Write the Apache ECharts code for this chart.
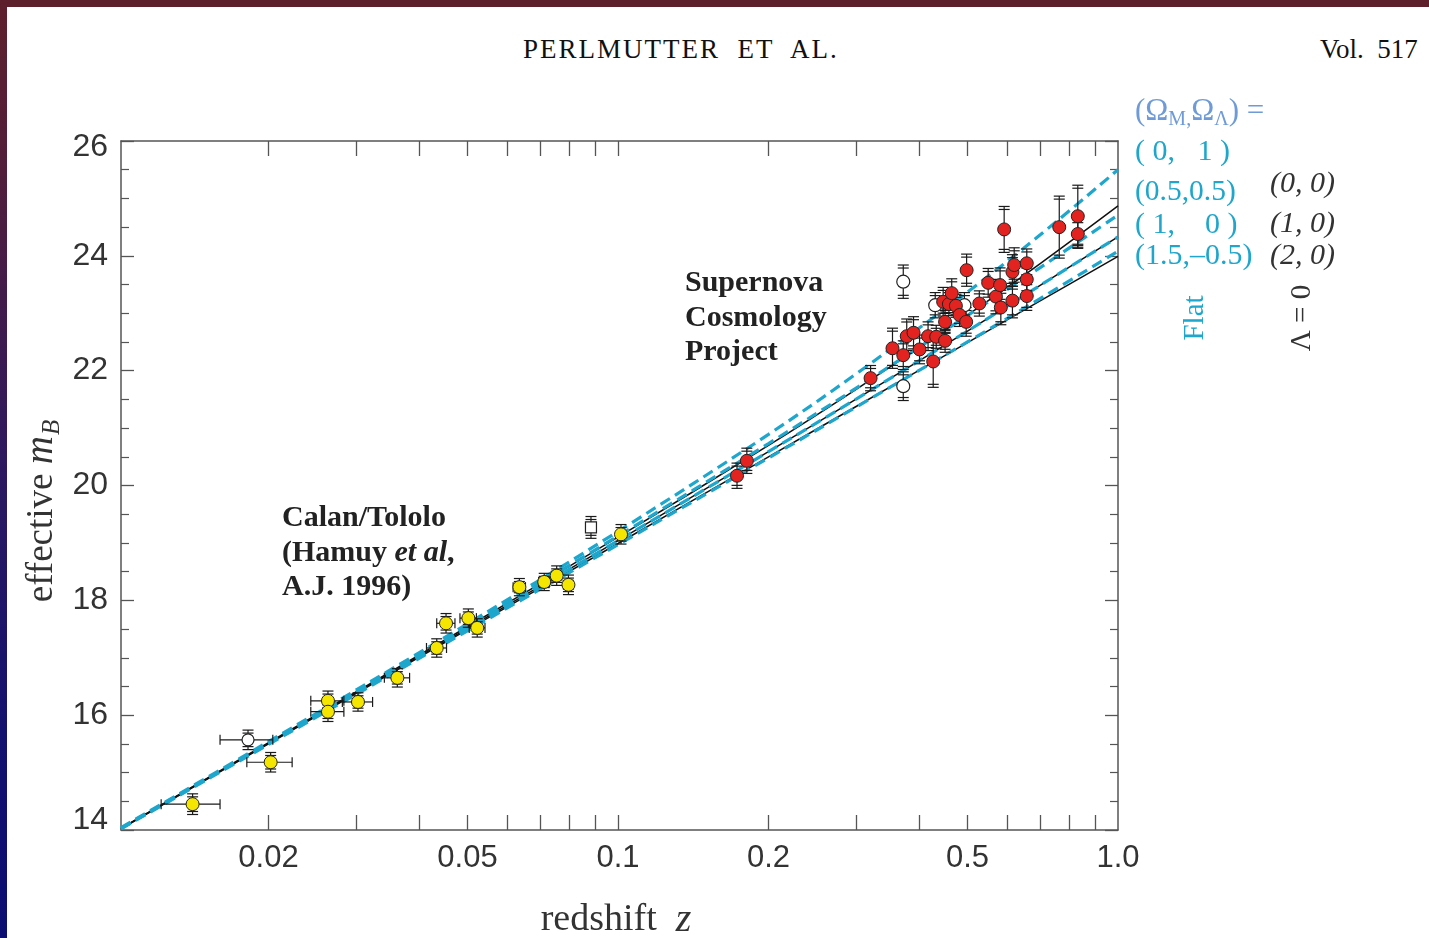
<!DOCTYPE html>
<html>
<head>
<meta charset="utf-8">
<script src="https://cdn.jsdelivr.net/npm/echarts@6/dist/echarts.min.js"></script>
<style>
html,body{margin:0;padding:0;width:1429px;height:938px;overflow:hidden;}
body{background:linear-gradient(to bottom,#5e1f2c 0%,#521d3b 18%,#2d1860 50%,#13116e 78%,#0c0d72 100%);}
#paper{position:absolute;left:7px;top:7px;right:0;bottom:0;background:#fff;}
#chart{position:absolute;left:0;top:0;width:1429px;height:938px;}
.hdr{position:absolute;font-family:"Liberation Serif","Times New Roman",serif;color:#111;white-space:pre;line-height:1;}
</style>
</head>
<body>
<div id="paper"></div>
<div class="hdr" style="left:523px;top:36px;font-size:27px;letter-spacing:2px;">PERLMUTTER  ET  AL.</div>
<div class="hdr" style="left:1320px;top:36px;font-size:27px;">Vol.  517</div>
<div id="chart"></div>
<script>
const SERIF = '"Liberation Serif","Times New Roman",Times,serif';
const SANS = '"Liberation Sans",Arial,Helvetica,sans-serif';
const L = v => Math.log10(v);

// ---- axis ranges / ticks ----
const zMin = 0.01014, zMax = 1.0;
const xLabelZ = [0.02, 0.05, 0.1, 0.2, 0.5, 1.0];
const xLabelText = ['0.02', '0.05', '0.1', '0.2', '0.5', '1.0'];
const xTickZ = [0.02,0.03,0.04,0.05,0.06,0.07,0.08,0.09,0.1,0.2,0.3,0.4,0.5,0.6,0.7,0.8,0.9];

// ---- model curves ----
const zModel      = [0.01014, 0.02, 0.05, 0.1, 0.2, 0.3, 0.5, 0.7, 1.0];
const mFlat_0_1   = [14.04, 15.54, 17.59, 19.20, 20.89, 21.95, 23.37, 24.37, 25.50];
const mFlat_05_05 = [14.03, 15.52, 17.55, 19.12, 20.73, 21.70, 22.96, 23.80, 24.71];
const mFlat_1_0   = [14.03, 15.51, 17.51, 19.04, 20.59, 21.51, 22.69, 23.49, 24.33];
const mFlat_15_m05= [14.02, 15.49, 17.47, 18.97, 20.48, 21.37, 22.50, 23.26, 24.08];
const mL0_0_0     = [14.03, 15.52, 17.54, 19.10, 20.70, 21.68, 22.97, 23.87, 24.87];
const mL0_1_0     = [14.03, 15.51, 17.51, 19.04, 20.59, 21.51, 22.69, 23.49, 24.33];
const mL0_2_0     = [14.02, 15.50, 17.49, 18.99, 20.50, 21.38, 22.49, 23.22, 23.99];

// ---- Calan/Tololo supernovae ----
const ctZ  = [0.0141,0.0202,0.0263,0.0263,0.0302,0.0362,0.0434,0.0453,0.0502,0.0523,0.0635,0.0712,0.0754,0.0796,0.1014];
const ctM  = [14.45,15.18,16.25,16.06,16.23,16.65,17.17,17.60,17.69,17.52,18.23,18.32,18.43,18.27,19.15];
const ctDM = [0.18,0.17,0.17,0.17,0.16,0.16,0.16,0.17,0.16,0.16,0.15,0.15,0.17,0.17,0.17];
const ctDZ = [0.0019,0.0021,0.0020,0.0020,0.0021,0.0021,0.0020,0.0019,0.0019,0.0019,0.0018,0.0018,0.0018,0.0018,0];
const ctOpenZ = [0.0182], ctOpenM = [15.57], ctOpenDM = [0.17], ctOpenDZ = [0.0022];
const sqZ = [0.0883], sqM = [19.27], sqDM = [0.19];

// ---- Supernova Cosmology Project ----
const scpZ  = [0.173,0.181,0.320,0.354,0.372,0.378,0.390,0.401,0.417,0.427,0.433,0.451,0.451,0.447,0.459,0.465,0.474,0.482,0.497,0.498,0.528,0.550,0.570,0.581,0.583,0.592,0.615,0.615,0.620,0.657,0.657,0.657,0.763,0.831,0.831];
const scpM  = [20.17,20.43,21.87,22.39,22.27,22.60,22.66,22.37,22.60,22.16,22.59,22.52,22.85,23.20,23.16,23.35,23.13,22.97,22.85,23.75,23.17,23.53,23.29,23.49,23.10,24.46,23.22,23.72,23.84,23.87,23.59,23.30,24.50,24.69,24.38];
const scpDM = [0.22,0.22,0.22,0.35,0.25,0.30,0.28,0.25,0.25,0.45,0.20,0.20,0.20,0.25,0.20,0.25,0.20,0.20,0.25,0.28,0.22,0.25,0.30,0.30,0.30,0.40,0.30,0.30,0.30,0.25,0.25,0.25,0.54,0.54,0.25];
const scpOpenZ = [0.372,0.372,0.431,0.493];
const scpOpenM = [23.55,21.73,23.14,23.14];
const scpOpenDM = [0.29,0.25,0.22,0.22];

// ---- build ----
const pts = (zs, ms) => zs.map((z, i) => [L(z), ms[i]]);
const errRows = (zs, ms, dms, dzs) => zs.map((z, i) => {
  const dz = dzs ? dzs[i] : 0;
  return [L(z), ms[i], dms[i], dz ? L(z - dz) : L(z), dz ? L(z + dz) : L(z)];
});
const allErr = [].concat(
  errRows(ctZ, ctM, ctDM, ctDZ),
  errRows(ctOpenZ, ctOpenM, ctOpenDM, ctOpenDZ),
  errRows(sqZ, sqM, sqDM, null),
  errRows(scpZ, scpM, scpDM, null),
  errRows(scpOpenZ, scpOpenM, scpOpenDM, null)
);

function renderErr(params, api) {
  const x = api.value(0), y = api.value(1), dy = api.value(2), xl = api.value(3), xh = api.value(4);
  const st = { stroke: '#1a1a1a', lineWidth: 1.2 };
  const top = api.coord([x, y + dy]), bot = api.coord([x, y - dy]);
  const cw = 5.5, ch = [];
  const ln = (x1, y1, x2, y2) => ch.push({ type: 'line', shape: { x1, y1, x2, y2 }, style: st });
  ln(top[0], top[1], bot[0], bot[1]);
  ln(top[0] - cw, top[1], top[0] + cw, top[1]);
  ln(top[0] - cw, top[1] + 3, top[0] + cw, top[1] + 3);
  ln(bot[0] - cw, bot[1], bot[0] + cw, bot[1]);
  ln(bot[0] - cw, bot[1] - 3, bot[0] + cw, bot[1] - 3);
  if (xh > xl) {
    const a = api.coord([xl, y]), b = api.coord([xh, y]);
    ln(a[0], a[1], b[0], b[1]);
    ln(a[0], a[1] - 5, a[0], a[1] + 5);
    ln(b[0], b[1] - 5, b[0], b[1] + 5);
  }
  return { type: 'group', children: ch };
}

const CYAN = '#1ea6cc';
const lineSeries = (data, color, dashed, width, z) => ({
  type: 'line', data: pts(zModel, data), showSymbol: false, smooth: 0.35,
  lineStyle: { color, width, type: dashed ? [11, 6] : 'solid' }, z, silent: true
});

function makeX(pos, showLabel) {
  return {
    type: 'value', min: L(zMin), max: L(zMax), position: pos,
    splitLine: { show: false },
    axisLine: { show: true, onZero: false, lineStyle: { color: '#555', width: 1.5 } },
    axisTick: { show: true, inside: true, length: 15, customValues: xTickZ.map(L), lineStyle: { color: '#555', width: 1.3 } },
    axisLabel: showLabel ? {
      show: true, customValues: xLabelZ.map(L), margin: 13,
      fontFamily: SANS, fontSize: 31, color: '#333',
      formatter: v => { const i = xLabelZ.findIndex(z => Math.abs(L(z) - v) < 1e-6); return i >= 0 ? xLabelText[i] : ''; }
    } : { show: false }
  };
}
function makeY(pos, showLabel) {
  return {
    type: 'value', min: 14, max: 26, interval: 2, position: pos,
    splitLine: { show: false },
    axisLine: { show: true, onZero: false, lineStyle: { color: '#555', width: 1.5 } },
    axisTick: { show: true, inside: true, length: 13, lineStyle: { color: '#555', width: 1.3 } },
    minorTick: { show: true, splitNumber: 4, length: 8, lineStyle: { color: '#555', width: 1.2 } },
    minorSplitLine: { show: false },
    axisLabel: showLabel ? {
      show: true, margin: 13, fontFamily: SANS, fontSize: 32, color: '#333',
      formatter: v => v === 26 ? '{t|26}' : (v === 14 ? '{b|14}' : String(v)),
      rich: {
        t: { fontFamily: SANS, fontSize: 32, color: '#333', padding: [12, 0, 0, 0] },
        b: { fontFamily: SANS, fontSize: 32, color: '#333', padding: [0, 0, 20, 0] }
      }
    } : { show: false }
  };
}

const chart = echarts.init(document.getElementById('chart'));
chart.setOption({
  animation: false,
  backgroundColor: 'transparent',
  grid: { left: 121, top: 141, width: 997, height: 689, containLabel: false },
  xAxis: [makeX('bottom', true), makeX('top', false)],
  yAxis: [makeY('left', true), makeY('right', false)],
  series: [
    lineSeries(mL0_0_0, '#111', false, 1.5, 2),
    lineSeries(mL0_1_0, '#111', false, 1.5, 2),
    lineSeries(mL0_2_0, '#111', false, 1.5, 2),
    lineSeries(mFlat_0_1, CYAN, true, 3.2, 3),
    lineSeries(mFlat_05_05, CYAN, true, 3.2, 3),
    lineSeries(mFlat_1_0, CYAN, true, 3.2, 3),
    lineSeries(mFlat_15_m05, CYAN, true, 3.2, 3),
    { type: 'custom', renderItem: renderErr, data: allErr, encode: { x: 0, y: 1 }, z: 4, silent: true },
    { type: 'scatter', data: pts(ctZ, ctM), symbol: 'circle', symbolSize: 13, z: 5,
      itemStyle: { color: '#f4e600', borderColor: '#222', borderWidth: 1, opacity: 1 } },
    { type: 'scatter', data: pts(ctOpenZ, ctOpenM), symbol: 'circle', symbolSize: 12, z: 5,
      itemStyle: { color: '#fff', borderColor: '#222', borderWidth: 1.2, opacity: 1 } },
    { type: 'scatter', data: pts(sqZ, sqM), symbol: 'rect', symbolSize: 11, z: 5,
      itemStyle: { color: '#fff', borderColor: '#222', borderWidth: 1.2, opacity: 1 } },
    { type: 'scatter', data: pts(scpOpenZ, scpOpenM), symbol: 'circle', symbolSize: 13, z: 5,
      itemStyle: { color: '#fff', borderColor: '#222', borderWidth: 1.2, opacity: 1 } },
    { type: 'scatter', data: pts(scpZ, scpM), symbol: 'circle', symbolSize: 13, z: 6,
      itemStyle: { color: '#e2231f', borderColor: '#222', borderWidth: 1, opacity: 1 } }
  ],
  graphic: [
    { type: 'text', x: 42, y: 511, rotation: Math.PI / 2, z: 10,
      style: { text: 'effective {i|m}{s|B}', fontFamily: SERIF, fontSize: 37, fill: '#333', align: 'center', verticalAlign: 'middle',
        rich: { i: { fontFamily: SERIF, fontSize: 39, fontStyle: 'italic', fill: '#333' },
                s: { fontFamily: SERIF, fontSize: 25, fontStyle: 'italic', fill: '#333', padding: [20, 0, 0, 1] } } } },
    { type: 'text', x: 616, y: 920, z: 10,
      style: { text: 'redshift  {i|z}', fontFamily: SERIF, fontSize: 38, fill: '#333', align: 'center', verticalAlign: 'middle',
        rich: { i: { fontFamily: SERIF, fontSize: 40, fontStyle: 'italic', fill: '#333' } } } },
    { type: 'text', x: 685, y: 266, z: 10,
      style: { text: 'Supernova\nCosmology\nProject', fontFamily: SERIF, fontSize: 30, fontWeight: 'bold', lineHeight: 34.5, fill: '#222', align: 'left', verticalAlign: 'top' } },
    { type: 'text', x: 282, y: 501, z: 10,
      style: { text: 'Calan/Tololo\n(Hamuy {i|et al},\nA.J. 1996)', fontFamily: SERIF, fontSize: 30, fontWeight: 'bold', lineHeight: 34.5, fill: '#222', align: 'left', verticalAlign: 'top',
        rich: { i: { fontFamily: SERIF, fontSize: 30, fontWeight: 'bold', fontStyle: 'italic', fill: '#222', lineHeight: 34.5 } } } },
    { type: 'text', x: 1135, y: 112, z: 10,
      style: { text: '(Ω{s|M,}Ω{s|Λ}) =', fontFamily: SERIF, fontSize: 31, fill: '#6e9bd8', align: 'left', verticalAlign: 'middle',
        rich: { s: { fontFamily: SERIF, fontSize: 20, fill: '#6e9bd8', padding: [15, 0, 0, 0] } } } },
    { type: 'text', x: 1135, y: 152, z: 10, style: { text: '( 0,   1 )', fontFamily: SERIF, fontSize: 30, fill: CYAN, align: 'left', verticalAlign: 'middle' } },
    { type: 'text', x: 1135, y: 192, z: 10, style: { text: '(0.5,0.5)', fontFamily: SERIF, fontSize: 29.5, fill: CYAN, align: 'left', verticalAlign: 'middle' } },
    { type: 'text', x: 1135, y: 225, z: 10, style: { text: '( 1,    0 )', fontFamily: SERIF, fontSize: 30, fill: CYAN, align: 'left', verticalAlign: 'middle' } },
    { type: 'text', x: 1135, y: 256, z: 10, style: { text: '(1.5,–0.5)', fontFamily: SERIF, fontSize: 30, fill: CYAN, align: 'left', verticalAlign: 'middle' } },
    { type: 'text', x: 1270, y: 184, z: 10, style: { text: '(0, 0)', fontFamily: SERIF, fontSize: 30, fontStyle: 'italic', fill: '#333', align: 'left', verticalAlign: 'middle' } },
    { type: 'text', x: 1270, y: 224, z: 10, style: { text: '(1, 0)', fontFamily: SERIF, fontSize: 30, fontStyle: 'italic', fill: '#333', align: 'left', verticalAlign: 'middle' } },
    { type: 'text', x: 1270, y: 256, z: 10, style: { text: '(2, 0)', fontFamily: SERIF, fontSize: 30, fontStyle: 'italic', fill: '#333', align: 'left', verticalAlign: 'middle' } },
    { type: 'text', x: 1195, y: 318, rotation: Math.PI / 2, z: 10, style: { text: 'Flat', fontFamily: SERIF, fontSize: 29, fill: CYAN, align: 'center', verticalAlign: 'middle' } },
    { type: 'text', x: 1302, y: 318, rotation: Math.PI / 2, z: 10, style: { text: 'Λ = 0', fontFamily: SERIF, fontSize: 29, fill: '#333', align: 'center', verticalAlign: 'middle' } }
  ]
});
</script>
</body>
</html>
